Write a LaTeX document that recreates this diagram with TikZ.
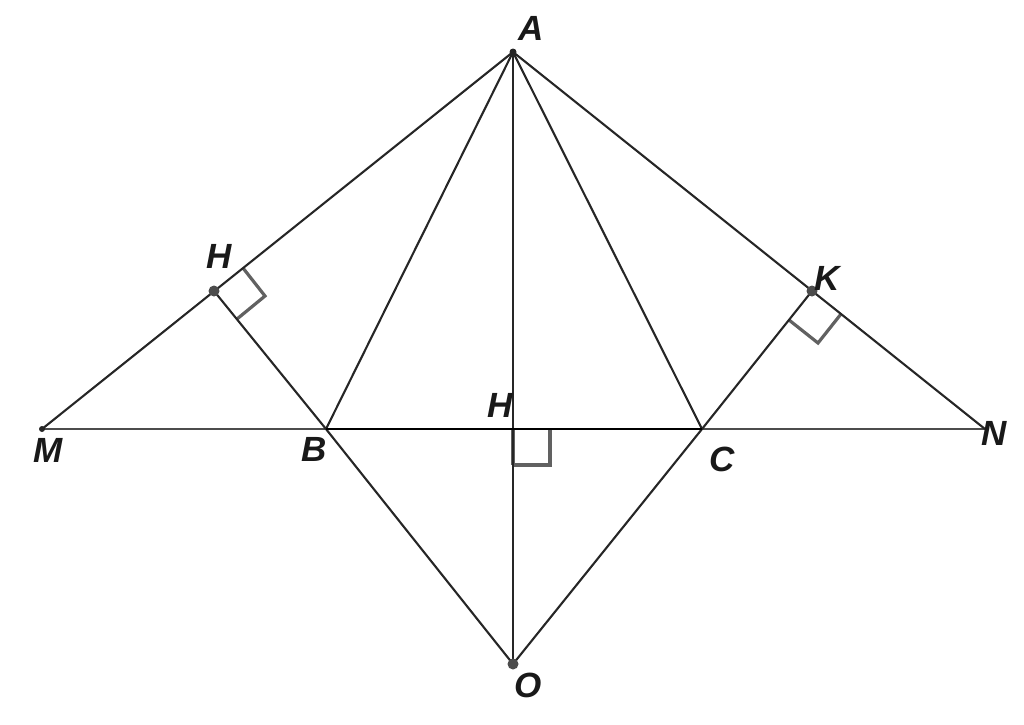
\documentclass[tikz,border=0pt]{standalone}
\usepackage{fontspec}
\setmainfont{Liberation Sans}
\tikzset{lbl/.style={font=\bfseries\itshape\fontsize{35}{35}\selectfont,text=black!90,inner sep=0pt},
  seg/.style={draw=black!85,line width=2.1pt},
  base/.style={draw=black!70,line width=2.4pt},
  sqr/.style={draw=black!62,line width=3.2pt}}
\begin{document}
\begin{tikzpicture}[x=1pt,y=-1pt]
\useasboundingbox (0,0) rectangle (1024,724);
\coordinate (A) at (513,52);
\coordinate (M) at (42,429);
\coordinate (N) at (985,429);
\coordinate (B) at (326,429);
\coordinate (C) at (702,429);
\coordinate (I) at (513,429);
\coordinate (O) at (513,664);
\coordinate (P) at (214,291);
\coordinate (K) at (812,291);
\draw[sqr](243,268)--(265,296)--(237,319);
\draw[sqr](789,320)--(818,343)--(841,314);
\draw[sqr](513,465)--(550,465)--(550,429);
\draw[sqr](513,429)--(513,465);
\draw[base](M)--(N);
\draw[seg](A)--(M);
\draw[seg](A)--(N);
\draw[seg](A)--(B)--(O)--(C)--(A);
\draw[seg](A)--(O);
\draw[seg](P)--(B);
\draw[seg](K)--(C);
\draw[seg,draw=black](B)--(C);
\fill[black!85](A)circle(3.5);
\fill[black!85](M)circle(3);
\fill[black!70](P)circle(5.5);
\fill[black!70](K)circle(5.5);
\fill[black!70](O)circle(5.5);
\node[lbl] (lA) at (531,28) {A};
\node[lbl] (lP) at (219,256) {H};
\node[lbl] (lK) at (827,278) {K};
\node[lbl] (lI) at (500,405) {H};
\node[lbl] (lM) at (48,450) {M};
\node[lbl] (lB) at (314,449) {B};
\node[lbl] (lC) at (722,459) {C};
\node[lbl] (lN) at (994,433) {N};
\node[lbl] (lO) at (528,685) {O};
\end{tikzpicture}
\end{document}
